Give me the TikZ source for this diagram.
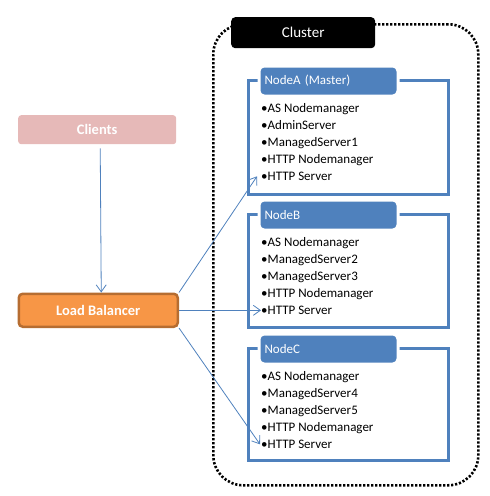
\documentclass[tikz,border=0pt]{standalone}
\usepackage{fontspec}
\setmainfont{Carlito}
\usetikzlibrary{arrows.meta}
\definecolor{nodeblue}{HTML}{4F81BD}
\definecolor{clientpink}{HTML}{E6B9B8}
\definecolor{lborange}{HTML}{F79646}
\definecolor{lbborder}{HTML}{B66D31}
\tikzset{
  clusterbox/.style={draw=black, line width=2.6pt, dash pattern=on 2.2pt off 1.8pt, rounded corners=30pt, minimum width=265pt, minimum height=461pt, anchor=north west, inner sep=0pt},
  clusterlabel/.style={fill=black, text=white, rounded corners=4pt, minimum width=144pt, minimum height=31pt, anchor=north west, inner sep=0pt, font=\fontsize{15}{17}\selectfont},
  serverbox/.style={draw=nodeblue, line width=3pt, minimum width=200pt, anchor=north west, inner sep=0pt},
  header/.style={fill=nodeblue, draw=white, line width=3pt, rounded corners=5pt, text=white, anchor=north west, minimum height=30pt, text width=128pt, align=left, inner xsep=5.5pt, inner ysep=0pt, font=\fontsize{13}{15}\selectfont},
  item/.style={anchor=base west, inner sep=0pt, font=\fontsize{13}{15}\selectfont},
  clientbox/.style={fill=clientpink, rounded corners=3pt, text=white, font=\bfseries\fontsize{14.5}{17}\selectfont, minimum width=158pt, minimum height=29pt, anchor=north west, inner sep=0pt},
  lbbox/.style={fill=lborange, draw=lbborder, line width=2.5pt, rounded corners=4pt, text=white, font=\bfseries\fontsize{14.5}{17}\selectfont, minimum width=159pt, minimum height=33pt, anchor=north west, inner sep=0pt},
  link/.style={draw=nodeblue, line width=0.8pt, -{Straight Barb[length=7pt,width=10pt]}},
}
\begin{document}
\begin{tikzpicture}[x=1pt,y=-1pt]
\useasboundingbox (0,0) rectangle (490,496);
% cluster
\node[clusterbox] (cluster) at (212,23) {};
\node[clusterlabel] (clusterlbl) at (231,17) {Cluster};
% Node A
\node[serverbox, minimum height=114pt] (boxA) at (247,79) {};
\node[header] (headA) at (257.5,64.5) {NodeA (Master)};
\node[item] (a1) at (261,112.5) {•AS Nodemanager};
\node[item] (a2) at (261,129.5) {•AdminServer};
\node[item] (a3) at (261,146.5) {•ManagedServer1};
\node[item] (a4) at (261,163.5) {•HTTP Nodemanager};
\node[item] (httpA) at (261,180.5) {•HTTP Server};
% Node B
\node[serverbox, minimum height=113pt] (boxB) at (247,213) {};
\node[header] (headB) at (257.5,198.5) {NodeB};
\node[item] (b1) at (261,246.5) {•AS Nodemanager};
\node[item] (b2) at (261,263.5) {•ManagedServer2};
\node[item] (b3) at (261,280.5) {•ManagedServer3};
\node[item] (b4) at (261,297.5) {•HTTP Nodemanager};
\node[item] (httpB) at (261,314.5) {•HTTP Server};
% Node C
\node[serverbox, minimum height=112pt] (boxC) at (247,347) {};
\node[header] (headC) at (257.5,332.5) {NodeC};
\node[item] (c1) at (261,380.5) {•AS Nodemanager};
\node[item] (c2) at (261,397.5) {•ManagedServer4};
\node[item] (c3) at (261,414.5) {•ManagedServer5};
\node[item] (c4) at (261,431.5) {•HTTP Nodemanager};
\node[item] (httpC) at (261,448.5) {•HTTP Server};
% left side
\node[clientbox] (clients) at (18,115) {Clients};
\node[lbbox] (lb) at (17.5,292.5) {Load Balancer};
% connectors
\draw[link, shorten <=4pt] ([xshift=3pt]clients.south) -- ([xshift=3pt]lb.north);
\draw[link] (lb.north east) -- ([xshift=-4pt]httpA.west);
\draw[link] (lb.east |- httpB.west) -- (httpB.west);
\draw[link] (lb.south east) -- ([xshift=-1pt]httpC.west);
\end{tikzpicture}
\end{document}
